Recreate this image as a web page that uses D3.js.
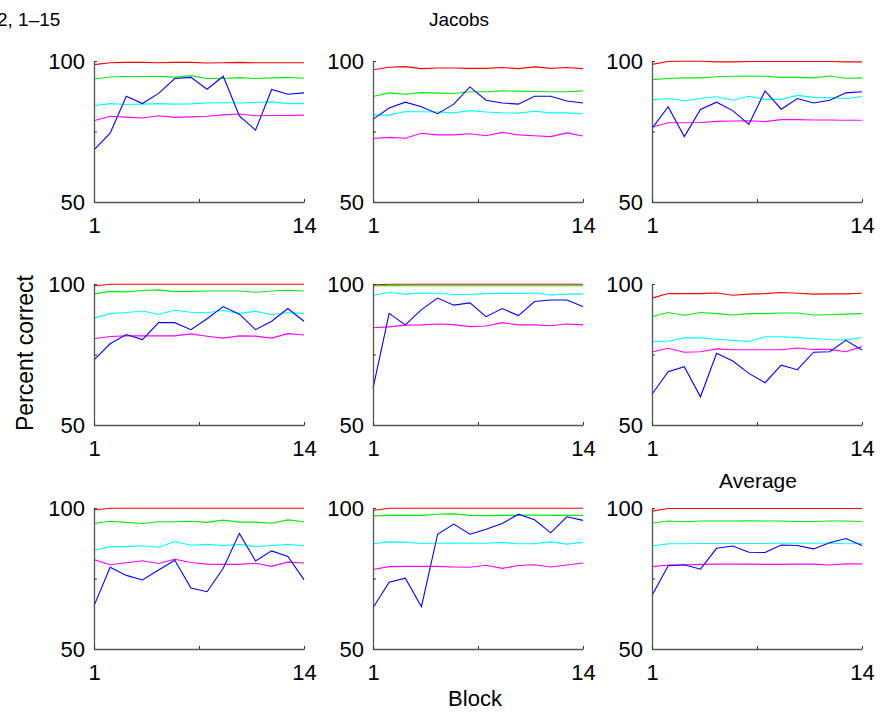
<!DOCTYPE html>
<html>
<head>
<meta charset="utf-8">
<script src="https://cdn.jsdelivr.net/npm/d3@7"></script>
<style>
  body { margin: 0; background: #fff; }
  text { font-family: 'Liberation Sans', Arial, sans-serif; fill: #000; }
</style>
</head>
<body>
<div id="charts-container"></div>
<script>
const blocks = [1, 2, 3, 4, 5, 6, 7, 8, 9, 10, 11, 12, 13, 14];
const yTicks = [50, 75, 100];
const yTickLabels = ['50', '', '100'];
const xTicks = [1, 7.5, 14];
const xTickLabels = ['1', '', '14'];
const panelTitles = ['', '', '', '', '', '', '', '', 'Average'];

// one row per panel, left to right, top to bottom
const redSeries = [
  [98.7, 99.4, 99.5, 99.5, 99.4, 99.5, 99.5, 99.3, 99.4, 99.5, 99.4, 99.4, 99.4, 99.4],
  [96.9, 97.8, 98.0, 97.3, 97.5, 97.5, 97.4, 97.4, 97.7, 97.3, 97.9, 97.4, 97.7, 97.3],
  [98.8, 99.8, 99.9, 99.9, 99.7, 99.7, 99.8, 99.8, 99.8, 99.8, 99.8, 99.8, 99.7, 99.7],
  [99.3, 99.9, 99.9, 99.9, 99.9, 99.9, 99.9, 99.9, 99.9, 99.9, 99.9, 99.9, 99.9, 99.9],
  [99.7, 99.9, 99.9, 99.9, 99.9, 99.9, 99.9, 99.9, 99.9, 99.9, 99.9, 99.9, 99.9, 99.9],
  [95.0, 96.6, 96.6, 96.6, 96.8, 96.0, 96.4, 96.6, 97.0, 96.7, 96.4, 96.5, 96.5, 96.7],
  [99.3, 99.9, 99.9, 99.9, 99.9, 99.9, 99.9, 99.9, 99.9, 99.9, 99.9, 99.9, 99.9, 99.9],
  [99.1, 99.9, 99.9, 99.9, 99.9, 99.9, 99.9, 99.9, 99.9, 99.9, 99.9, 99.9, 99.9, 99.9],
  [98.9, 99.8, 99.8, 99.8, 99.8, 99.8, 99.8, 99.8, 99.8, 99.8, 99.8, 99.8, 99.8, 99.8],
];

const greenSeries = [
  [93.6, 94.3, 94.5, 94.5, 94.6, 94.3, 94.8, 93.8, 93.8, 94.1, 93.8, 94.0, 94.2, 93.9],
  [87.4, 88.7, 88.2, 88.8, 88.6, 88.5, 89.1, 89.1, 89.4, 89.3, 89.2, 89.1, 89.1, 89.4],
  [93.4, 93.8, 94.0, 94.0, 94.4, 94.6, 94.7, 94.6, 94.2, 94.2, 94.0, 94.7, 93.9, 94.0],
  [96.5, 97.4, 97.2, 97.7, 97.9, 97.3, 97.4, 97.5, 97.5, 97.5, 97.1, 97.5, 97.8, 97.5],
  [99.3, 99.5, 99.4, 99.4, 99.4, 99.4, 99.4, 99.4, 99.4, 99.4, 99.4, 99.4, 99.4, 99.4],
  [88.5, 89.9, 88.9, 89.9, 89.5, 89.0, 89.5, 89.5, 89.7, 89.7, 89.0, 89.1, 89.3, 89.5],
  [94.5, 95.3, 94.9, 94.5, 95.1, 95.1, 95.3, 94.9, 95.7, 95.0, 95.0, 94.6, 95.8, 95.1],
  [97.2, 97.4, 97.4, 97.4, 97.8, 97.9, 97.4, 97.3, 97.4, 97.4, 97.5, 97.4, 97.4, 97.4],
  [94.6, 95.4, 95.1, 95.4, 95.4, 95.4, 95.5, 95.4, 95.4, 95.2, 95.2, 95.4, 95.4, 95.2],
];

const cyanSeries = [
  [84.2, 84.9, 84.6, 84.7, 84.9, 84.7, 84.8, 85.1, 85.3, 85.1, 85.3, 85.5, 84.9, 84.9],
  [80.9, 80.8, 82.1, 82.0, 81.9, 81.6, 82.4, 81.9, 81.6, 81.5, 82.2, 81.6, 81.6, 81.3],
  [86.2, 86.7, 85.9, 86.7, 87.3, 86.1, 87.5, 86.4, 86.4, 87.8, 87.1, 87.0, 86.7, 87.4],
  [87.9, 89.5, 89.9, 90.4, 89.3, 90.7, 90.0, 89.8, 90.6, 89.6, 90.3, 89.2, 89.8, 89.6],
  [95.9, 97.0, 96.4, 96.8, 96.7, 96.3, 96.3, 96.6, 96.7, 96.6, 96.8, 96.1, 96.4, 96.5],
  [79.7, 79.7, 80.9, 80.9, 80.4, 80.0, 79.6, 81.3, 81.3, 81.0, 80.7, 80.3, 80.2, 81.0],
  [85.0, 86.3, 86.3, 86.6, 86.1, 88.1, 86.8, 87.1, 86.7, 87.1, 86.3, 86.7, 87.1, 86.6],
  [87.3, 88.0, 87.9, 87.4, 87.5, 87.6, 87.5, 87.5, 87.8, 87.3, 87.3, 88.0, 87.2, 87.8],
  [86.5, 87.3, 87.3, 87.4, 87.4, 87.4, 87.4, 87.4, 87.5, 87.5, 87.5, 87.5, 87.3, 87.4],
];

const magentaSeries = [
  [78.8, 80.4, 80.1, 79.8, 80.6, 80.0, 80.2, 80.4, 80.9, 81.2, 80.6, 80.7, 80.7, 80.8],
  [72.5, 72.9, 72.6, 74.4, 73.8, 73.8, 74.2, 73.5, 74.7, 73.8, 73.5, 73.2, 74.5, 73.4],
  [76.5, 78.1, 78.1, 78.2, 78.6, 78.7, 78.8, 78.5, 79.2, 79.2, 79.1, 79.1, 79.0, 79.0],
  [80.6, 81.4, 81.6, 81.6, 81.6, 81.6, 82.3, 81.5, 80.8, 81.6, 81.5, 80.8, 82.4, 81.9],
  [84.5, 84.8, 85.4, 85.5, 85.8, 85.6, 84.9, 85.1, 86.3, 85.5, 85.5, 85.2, 85.8, 85.5],
  [75.9, 77.2, 75.8, 76.0, 77.0, 76.7, 76.7, 76.7, 76.7, 77.3, 76.8, 76.8, 76.0, 77.8],
  [81.7, 79.9, 80.6, 81.3, 80.3, 81.8, 80.7, 80.1, 80.0, 80.0, 80.4, 79.3, 80.8, 80.5],
  [78.2, 79.2, 79.3, 79.3, 79.3, 79.1, 79.0, 79.7, 78.6, 79.6, 79.9, 79.1, 79.8, 80.5],
  [79.2, 79.8, 79.8, 80.0, 80.1, 80.1, 80.1, 80.0, 80.0, 80.1, 80.1, 79.8, 80.2, 80.2],
];

const blueSeries = [
  [68.5, 74.4, 87.5, 84.9, 88.5, 93.8, 94.2, 90.0, 94.6, 80.5, 75.5, 89.9, 88.2, 88.7],
  [79.3, 83.3, 85.4, 83.8, 81.3, 84.7, 90.8, 86.1, 85.1, 84.7, 87.5, 87.5, 85.8, 85.1],
  [76.1, 83.8, 73.2, 82.8, 85.4, 82.4, 77.5, 89.4, 82.9, 86.7, 85.1, 86.1, 88.7, 89.1],
  [73.1, 78.8, 82.1, 80.3, 86.3, 86.3, 83.8, 87.7, 92.0, 89.3, 83.8, 86.8, 91.3, 86.8],
  [63.0, 89.6, 85.5, 90.9, 95.0, 92.5, 93.3, 88.4, 91.3, 88.8, 93.8, 94.3, 94.3, 92.0],
  [60.9, 68.9, 70.7, 60.0, 75.4, 72.7, 68.3, 65.0, 71.2, 69.6, 75.8, 76.0, 80.0, 76.6],
  [65.3, 79.0, 76.1, 74.5, 78.0, 81.5, 71.6, 70.3, 78.6, 91.0, 81.2, 84.8, 82.8, 74.6],
  [64.6, 73.7, 75.1, 65.0, 90.7, 94.3, 90.7, 92.5, 94.5, 97.8, 95.8, 91.2, 96.9, 95.6],
  [69.0, 79.5, 79.9, 78.3, 85.7, 86.5, 84.3, 84.2, 86.9, 86.7, 85.5, 87.7, 89.2, 86.7],
];

const seriesColors = ['#ff0000', '#00ee00', '#00ffff', '#ff00ff', '#0000ff'];

function drawFigure() {
  const width = 880;
  const height = 713;
  const colX = [94, 373, 652];
  const rowY = [61, 284, 508];
  const panelW = 210;
  const panelH = 141;

  const svg = d3.select('#charts-container').append('svg')
    .attr('width', width)
    .attr('height', height);

  const x = d3.scaleLinear().domain([1, 14]).range([0, panelW]);
  const y = d3.scaleLinear().domain([50, 100]).range([panelH, 0]);

  const line = d3.line()
    .x((d, i) => x(blocks[i]))
    .y(d => y(d));

  const allSeries = [redSeries, greenSeries, cyanSeries, magentaSeries, blueSeries];

  for (let p = 0; p < 9; p += 1) {
    const g = svg.append('g')
      .attr('transform', `translate(${colX[p % 3]}, ${rowY[Math.floor(p / 3)]})`);

    allSeries.forEach((series, s) => {
      g.append('path')
        .attr('fill', 'none')
        .attr('stroke', seriesColors[s])
        .attr('stroke-width', 1.1)
        .attr('d', line(series[p]));
    });

    const yAxis = d3.axisLeft(y)
      .tickValues(yTicks)
      .tickFormat((d, i) => yTickLabels[i])
      .tickSizeInner(-3)
      .tickSizeOuter(0)
      .tickPadding(9);

    const xAxis = d3.axisBottom(x)
      .tickValues(xTicks)
      .tickFormat((d, i) => xTickLabels[i])
      .tickSizeInner(-3)
      .tickSizeOuter(0)
      .tickPadding(15);

    [g.append('g').call(yAxis),
      g.append('g').attr('transform', `translate(0, ${panelH})`).call(xAxis)]
      .forEach((ax) => {
        ax.select('.domain').attr('stroke', '#555').attr('stroke-width', 1.3);
        ax.selectAll('.tick line').attr('stroke', '#333');
        ax.selectAll('.tick text')
          .attr('fill', '#000')
          .style('font-family', "'Liberation Sans', Arial, sans-serif")
          .style('font-size', '22px');
      });

    if (panelTitles[p]) {
      g.append('text')
        .attr('x', panelW / 2 + 1)
        .attr('y', -20)
        .attr('text-anchor', 'middle')
        .style('font-size', '21px')
        .text(panelTitles[p]);
    }
  }

  svg.append('text')
    .attr('x', -3)
    .attr('y', 26)
    .style('font-size', '19px')
    .text('2, 1–15');

  svg.append('text')
    .attr('x', 459)
    .attr('y', 26)
    .attr('text-anchor', 'middle')
    .style('font-size', '19px')
    .text('Jacobs');

  svg.append('text')
    .attr('transform', 'translate(33, 353) rotate(-90)')
    .attr('text-anchor', 'middle')
    .style('font-size', '23px')
    .text('Percent correct');

  svg.append('text')
    .attr('x', 475)
    .attr('y', 706)
    .attr('text-anchor', 'middle')
    .style('font-size', '22px')
    .text('Block');
}

drawFigure();
</script>
</body>
</html>
